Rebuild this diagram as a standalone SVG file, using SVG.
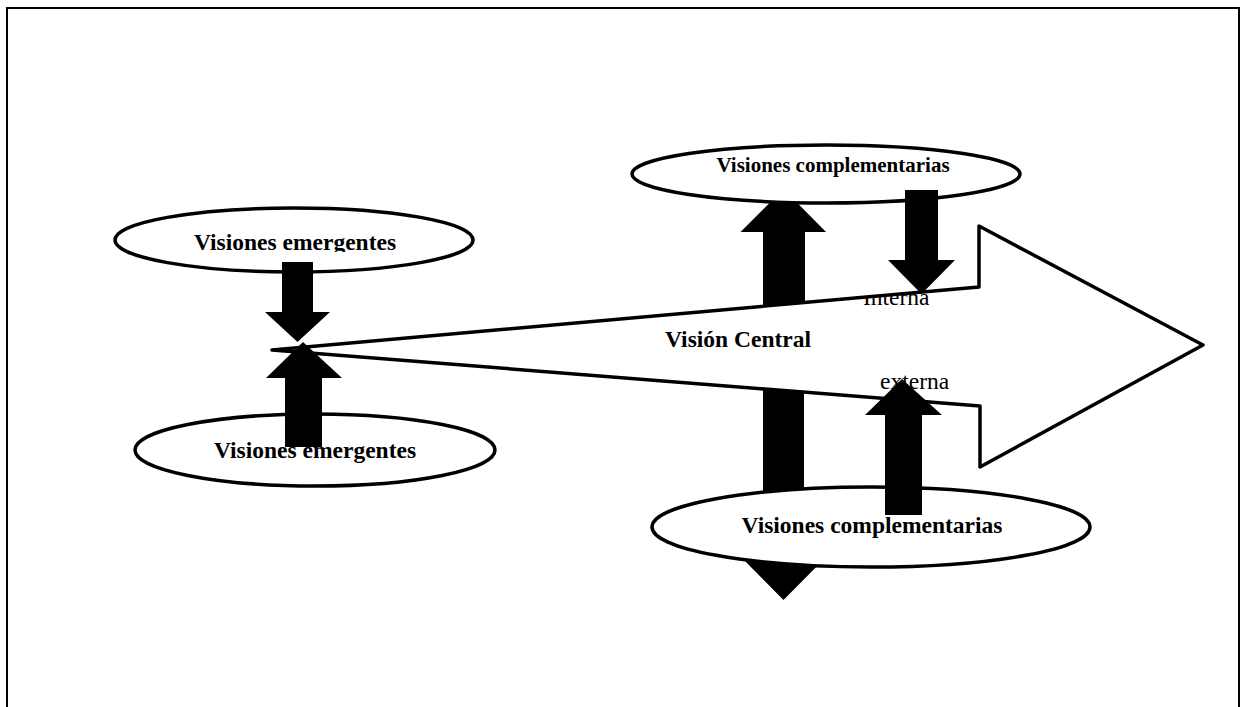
<svg xmlns="http://www.w3.org/2000/svg" width="1243" height="707" viewBox="0 0 1243 707">
<style>
.bg{fill:#fff}
.frame{fill:none;stroke:#000;stroke-width:2}
.ell{fill:#fff;stroke:#000;stroke-width:3.5}
.big{fill:#fff;stroke:#000;stroke-width:3.5;stroke-linejoin:round}
.blk{fill:#000;stroke:none}
.lbl{font-family:"Liberation Serif","Times New Roman",serif;font-weight:bold;font-size:23.5px;fill:#000;text-anchor:middle}
.plain{font-family:"Liberation Serif","Times New Roman",serif;font-size:23.5px;fill:#000}
</style>
<defs>
<clipPath id="clipTL"><rect x="150" y="200" width="300" height="52"/></clipPath>
<clipPath id="clipInt"><polygon points="850,299 960,289.5 960,320 850,320"/></clipPath>
</defs>
<rect class="bg" x="0" y="0" width="1243" height="707"/>
<path class="frame" d="M7,707 V8 H1239 V707"/>

<g id="connectors-back">
<polygon id="arrow-up-top" class="blk" points="763,330 763,232 740.5,232 783.5,189 826,232 805,232 805,330"/>
<polygon id="arrow-down-bottom" class="blk" points="763,370 804,370 804,552 831,552 783.5,600 736,552 763,552"/>
</g>

<g id="node-complementarias-top">
<ellipse class="ell" cx="826" cy="174" rx="194" ry="29"/>
<text class="lbl" x="833" y="172" style="font-size:21px">Visiones complementarias</text>
</g>

<g id="node-complementarias-bottom">
<ellipse class="ell" cx="871" cy="527" rx="219" ry="40"/>
<text class="lbl" x="872" y="533">Visiones complementarias</text>
</g>

<g id="node-emergentes-top">
<ellipse class="ell" cx="294" cy="240" rx="179" ry="32"/>
<text class="lbl" x="295" y="250" clip-path="url(#clipTL)">Visiones emergentes</text>
</g>

<g id="node-emergentes-bottom">
<ellipse class="ell" cx="315" cy="450" rx="180" ry="36"/>
<text class="lbl" x="315" y="458">Visiones emergentes</text>
</g>

<g id="node-vision-central">
<polygon class="big" points="272,350 979,287 979,226 1203,345 980,467 980,406"/>
<text class="lbl" x="665" y="347" style="text-anchor:start">Visión Central</text>
<text class="plain" x="863" y="305" clip-path="url(#clipInt)">Interna</text>
<text class="plain" x="880" y="389">externa</text>
</g>

<g id="connectors">
<polygon id="arrow-down-left" class="blk" points="282,262 313,262 313,312 330,312 297.5,342 265,312 282,312"/>
<polygon id="arrow-up-left" class="blk" points="285,447 285,378 266,378 303,342 342,378 322,378 322,447"/>
<polygon id="arrow-down-right" class="blk" points="905,190 938,190 938,260 955,260 921.5,294 888,260 905,260"/>
<polygon id="arrow-up-right" class="blk" points="885,515 885,415 865,415 902,379 942,415 922,415 922,515"/>
</g>
</svg>
